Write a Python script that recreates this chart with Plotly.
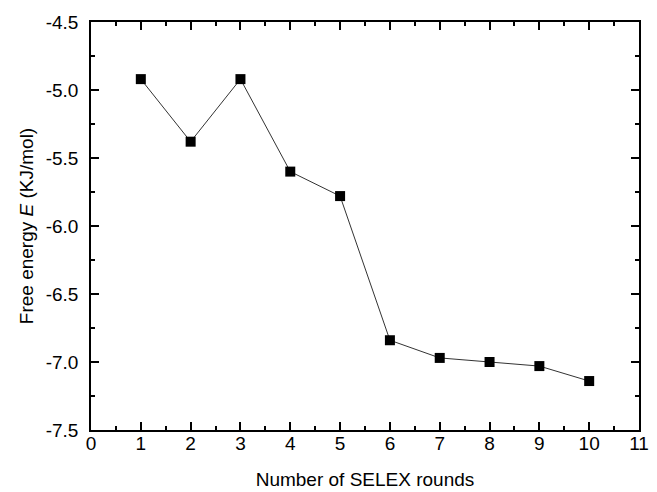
import plotly.graph_objects as go

rounds = [1, 2, 3, 4, 5, 6, 7, 8, 9, 10]
energy = [-4.92, -5.38, -4.92, -5.60, -5.78, -6.84, -6.97, -7.00, -7.03, -7.14]

x_ticks = list(range(0, 12))
y_ticks = [-7.5, -7.0, -6.5, -6.0, -5.5, -5.0, -4.5]
y_tick_text = ["-7.5", "-7.0", "-6.5", "-6.0", "-5.5", "-5.0", "-4.5"]

fig = go.Figure()
fig.add_trace(go.Scatter(
    x=rounds, y=energy, mode="lines+markers",
    line=dict(color="#333333", width=1),
    marker=dict(symbol="square", size=10, color="black"),
    showlegend=False, cliponaxis=False,
))

font = dict(family="Liberation Sans, Arial, sans-serif", size=19, color="black")

axis_common = dict(
    showline=True, linecolor="black", linewidth=1.5, mirror="allticks",
    ticks="inside", ticklen=8, tickwidth=1.5, tickcolor="black",
    showgrid=False, zeroline=False, tickfont=font, automargin=False,
)

fig.update_xaxes(
    range=[0, 11], tickvals=x_ticks, ticktext=[str(v) for v in x_ticks],
    minor=dict(dtick=0.5, ticks="inside", ticklen=4, tickwidth=1.5, tickcolor="black", showgrid=False),
    title=dict(text="Number of SELEX rounds", font=font, standoff=20),
    ticklabelstandoff=-5,
    **axis_common,
)
fig.update_yaxes(
    range=[-7.5, -4.5], tickvals=y_ticks, ticktext=y_tick_text,
    minor=dict(dtick=0.25, ticks="inside", ticklen=4, tickwidth=1.5, tickcolor="black", showgrid=False),
    title=dict(text="Free energy <i>E</i> (KJ/mol)", font=font, standoff=7),
    ticklabelstandoff=7,
    **axis_common,
)

fig.update_layout(
    width=657, height=492,
    margin=dict(l=91, r=18, t=22, b=62),
    plot_bgcolor="white", paper_bgcolor="white",
    font=font,
)

fig.write_html("out.html", config={"displayModeBar": False},
               post_script="document.body.style.margin='0';")
